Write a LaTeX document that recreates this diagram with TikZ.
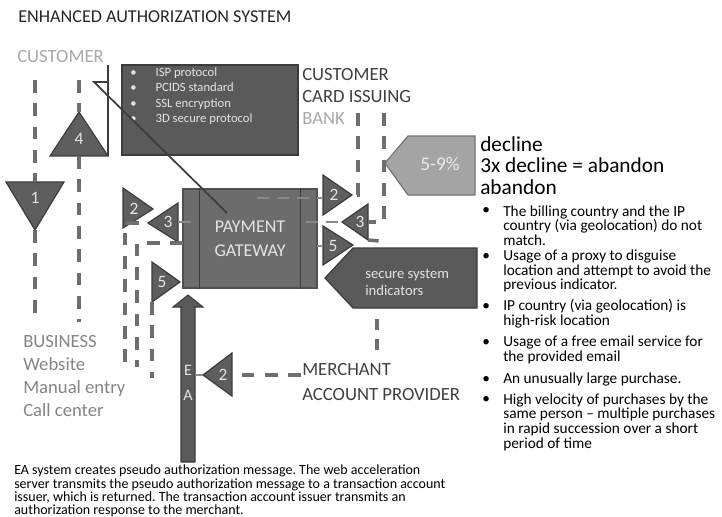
\documentclass[tikz,border=0pt]{standalone}
\usepackage{fontspec}
\setmainfont{Carlito}
\usetikzlibrary{calc}
\frenchspacing

\definecolor{boxDark}{HTML}{5A5A5A}
\definecolor{edgeDark}{HTML}{3C3C3C}
\definecolor{gateFill}{HTML}{6C6C6C}
\definecolor{triFill}{HTML}{5E5E5E}
\definecolor{dashGray}{HTML}{6E6E6E}
\definecolor{dashPale}{HTML}{888888}
\definecolor{paleTxt}{HTML}{E4E4E4}
\definecolor{midTxt}{HTML}{858585}
\definecolor{liteTxt}{HTML}{A8A8A8}
\definecolor{headTxt}{HTML}{404040}
\definecolor{pctFill}{HTML}{A4A4A4}

\newcommand{\fs}[2]{\fontsize{#1}{#2}\selectfont}

\tikzset{
  triSh/.style={draw=edgeDark, fill=triFill, line width=0.9pt, line join=miter},
  triLbl/.style={rectangle, draw=none, inner sep=0pt, text=paleTxt, font=\fs{13}{13}},
  dashLn/.style={draw=dashGray, line width=2.6pt, dash pattern=on 9.5pt off 8pt},
  paleLn/.style={draw=dashPale, line width=2.2pt, dash pattern=on 9pt off 6pt},
  thinLn/.style={draw=edgeDark, line width=1.3pt},
  plain/.style={rectangle, draw=none, inner sep=0pt, align=left},
}

\begin{document}
\begin{tikzpicture}[x=0.75pt, y=-0.75pt]
\useasboundingbox (0,0) rectangle (722,517);
% \draw[help lines, step=50] (0,0) grid (722,517);
%%%%%%%%%%%%%%%%%%%%%%%%%%%%%%% headings
\node[plain, anchor=west, text=black!85, font=\fs{13.6}{14}](title) at (18,17){ENHANCED AUTHORIZATION SYSTEM};
\node[plain, anchor=west, text=liteTxt, font=\fs{14}{14}](custTxt) at (17,57){CUSTOMER};
\node[plain, anchor=west, text=headTxt, font=\fs{14}{16.5}](bankTxt) at (302,96){CUSTOMER\\CARD ISSUING\\\textcolor{liteTxt}{BANK}};
\node[plain, anchor=west, text=midTxt, font=\fs{14}{17.2}](bizTxt) at (23,376){BUSINESS\\Website\\Manual entry\\Call center};
\node[plain, anchor=west, text=headTxt, font=\fs{14}{18.7}](mercTxt) at (302,382){MERCHANT\\ACCOUNT PROVIDER};
\node[plain, anchor=west, text=black, font=\fs{16}{16}](declTxt) at (480,165.5){decline\\3x decline = abandon\\abandon};

%%%%%%%%%%%%%%%%%%%%%%%%%%%%%%% protocol box
\node[rectangle, draw=edgeDark, fill=boxDark, line width=0.9pt, minimum width=132pt, minimum height=67.5pt](protoBox) at (210,110){};
\node[plain, anchor=west, text=paleTxt, font=\fs{9.5}{11.5}](protoTxt) at (130,96){%
\makebox[19pt][l]{\textbullet}ISP protocol\\\makebox[19pt][l]{\textbullet}PCIDS standard\\%
\makebox[19pt][l]{\textbullet}SSL encryption\\\makebox[19pt][l]{\textbullet}3D secure protocol};

%%%%%%%%%%%%%%%%%%%%%%%%%%%%%%% payment gateway
\node[rectangle, draw=edgeDark!90, fill=gateFill, line width=1pt, minimum width=100.5pt, minimum height=74.25pt,
  text=paleTxt, font=\fs{13.5}{18}, align=center](gate) at (250,238.5){PAYMENT\\GATEWAY};
\draw[edgeDark, line width=1pt] ($(gate.north west)+(17,0)$) -- ($(gate.south west)+(17,0)$);
\draw[edgeDark, line width=1pt] ($(gate.north east)+(-17,0)$) -- ($(gate.south east)+(-17,0)$);

%%%%%%%%%%%%%%%%%%%%%%%%%%%%%%% triangles
\draw[triSh] (35,230) coordinate (t1Apex) -- (6,182) -- (64,182) -- cycle;
\node[triLbl](tri1) at (35,198){1};
\draw[triSh] (79,112) coordinate (t4Apex) -- (50,156) -- (108,156) coordinate (t4Right) -- cycle;
\node[triLbl](tri4) at (79,139){4};
\draw[triSh] (153,209) -- (123,188) -- (123,228) -- cycle;
\node[triLbl](triL2) at (134,209){2};
\draw[triSh] (148,223) coordinate (l3Apex) -- (178,203) -- (178,242) -- cycle;
\node[triLbl](triL3) at (168,222){3};
\draw[triSh] (180,282) -- (152,262) -- (152,302) coordinate (l5Low) -- cycle;
\node[triLbl](triL5) at (162,282){5};
\draw[triSh] (352,195) coordinate (r2Apex) -- (323,175) -- (323,215) -- cycle;
\node[triLbl](triR2) at (334,195){2};
\draw[triSh] (342,222) coordinate (r3Apex) -- (368,204) -- (368,240) coordinate (r3Low) -- cycle;
\node[triLbl](triR3) at (360,222){3};
\draw[triSh] (353,245) -- (323,226) -- (323,265) -- cycle;
\node[triLbl](triR5) at (333,246){5};
\draw[triSh] (203,375) coordinate (b2Apex) -- (232,353) -- (232,396) -- cycle;
\node[triLbl](triB2) at (223,375){2};
\coordinate (t1Base) at (35,182); \coordinate (t4Base) at (79,156);
\coordinate (l3Base) at (178,222); \coordinate (r2Base) at (323,195);
\coordinate (r3Base) at (368,222); \coordinate (r5Base) at (323,246); \coordinate (b2Base) at (232,375);

%%%%%%%%%%%%%%%%%%%%%%%%%%%%%%% pointer boxes
\draw[draw=black!55, fill=pctFill, line width=0.9pt] (385,163) -- (408,136) -- (475,136) -- (475,195) -- (408,195) -- cycle;
\node[plain, text=white!92!black, font=\fs{14.5}{14.5}](pct) at (440,164){5-9\%};
\draw[draw=edgeDark, fill=boxDark, line width=0.9pt] (325,278) -- (353,248) -- (477,248) -- (477,308) -- (353,308) -- cycle;
\node[plain, anchor=west, text=paleTxt, font=\fs{11}{12.8}](secure) at (365,282){secure system\\indicators};
\coordinate (secureLo) at (377,319);

%%%%%%%%%%%%%%%%%%%%%%%%%%%%%%% EA arrow
\draw[draw=edgeDark, fill=boxDark, line width=0.8pt] (181,462) -- (181,307) -- (173,307) -- (188,295) -- (203,307) -- (195,307) -- (195,462) -- cycle;
\node[plain, text=paleTxt, font=\fs{12}{12}](eaE) at (188,370){E};
\node[plain, text=paleTxt, font=\fs{12}{12}](eaA) at (188,395){A};

%%%%%%%%%%%%%%%%%%%%%%%%%%%%%%% connectors
\coordinate (custA) at (35,80);   \coordinate (custAend) at (35,322);
\coordinate (custB) at (79,80);   \coordinate (custBend) at (79,322);
\draw[dashLn] (custA) -- (t1Base);
\draw[dashLn] (t1Apex) -- (custAend);
\draw[dashLn] (custB) -- (t4Apex);
\draw[dashLn] (t4Base) -- (custBend);

\coordinate (custTop) at (108,65); \coordinate (custHook) at (94,82); \coordinate (gateHit) at (227,213);
\draw[thinLn] (t4Right) -- (custTop);
\draw[thinLn] (custTop |- custHook) -- (custHook) -- (gateHit);

\coordinate (lowA) at (125,362); \coordinate (lowB) at (137,367); \coordinate (lowC) at (152,378);
\coordinate (gateL) at (183,243); \coordinate (gateL3) at (191,222);
\draw[dashLn] (lowA) |- (l3Apex);
\draw[dashLn] (gateL) -| (lowB);
\draw[dashLn] (l5Low) -- (lowC);
\draw[draw=dashPale, line width=2pt] (l3Base) -- (gateL3);

\coordinate (gateTop) at (257,198); \coordinate (gateR3) at (306,222); \coordinate (gateR5) at (317,246);
\draw[paleLn] (gateTop) -- (gateTop -| r2Base);
\draw[paleLn] (gateR3) -- (r3Apex);
\draw[draw=dashPale, line width=2pt] (gateR5) -- (r5Base);

\coordinate (bankA) at (358,113); \coordinate (bankB) at (384,113); \coordinate (r3Tail) at (379,241);
\draw[dashLn] (bankA) |- (r2Apex);
\draw[dashLn] (bankB) |- (r3Base);
\draw[dashLn, dash pattern=on 8pt off 3pt] (r3Low) -- (r3Tail);

\coordinate (mercUp) at (377,353); \coordinate (mercL) at (301,375); \coordinate (eaShaft) at (195,375);
\draw[dashLn, dash pattern=on 8.5pt off 6.5pt] (secureLo) -- (mercUp);
\draw[dashLn] (mercL) -- (b2Base);
\draw[draw=dashPale, line width=2pt] (b2Apex) -- (eaShaft);

%%%%%%%%%%%%%%%%%%%%%%%%%%%%%%% indicator list
\tikzset{bul/.style={plain, anchor=west, text=black, font=\fs{11.5}{11}}}
\node[bul](blt1) at (482,211){\textbullet};
\node[bul](ind1) at (503,225.5){The billing country and the IP\\country (via geolocation) do not\\match.};
\node[bul](blt2) at (482,256.5){\textbullet};
\node[bul](ind2) at (503,271){Usage of a proxy to disguise\\location and attempt to avoid the\\previous indicator.};
\node[bul](blt3) at (482,306.5){\textbullet};
\node[bul](ind3) at (503,314){IP country (via geolocation) is\\high-risk location};
\node[bul](blt4) at (482,342.5){\textbullet};
\node[bul](ind4) at (503,350){Usage of a free email service for\\the provided email};
\node[bul](blt5) at (482,379.5){\textbullet};
\node[bul](ind5) at (503,379.5){An unusually large purchase.};
\node[bul](blt6) at (482,399.5){\textbullet};
\node[bul](ind6) at (503,422){High velocity of purchases by the\\same person -- multiple purchases\\in rapid succession over a short\\period of time};

%%%%%%%%%%%%%%%%%%%%%%%%%%%%%%% footnote
\node[plain, anchor=west, text=black, font=\fs{10.5}{10.1}](eaNote) at (14,491){EA system creates pseudo authorization message. The web acceleration\\server transmits the pseudo authorization message to a transaction account\\issuer, which is returned. The transaction account issuer transmits an\\authorization response to the merchant.};

\end{tikzpicture}
\end{document}
